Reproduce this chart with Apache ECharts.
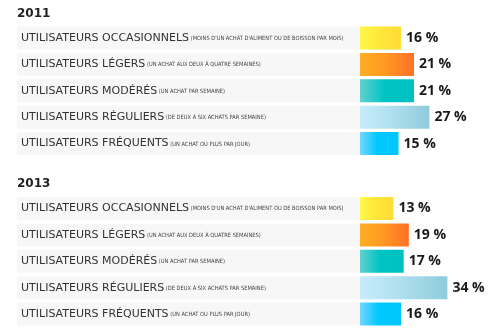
<!DOCTYPE html>
<html><head><meta charset="utf-8">
<script src="https://cdn.jsdelivr.net/npm/echarts@6/dist/echarts.min.js"></script>
<style>html,body{margin:0;padding:0;background:#fff}#c{width:500px;height:335px}</style>
</head><body><div id="c"></div>
<script>
const years = ['2011', '2013'];
const categories = ['UTILISATEURS OCCASIONNELS', 'UTILISATEURS LÉGERS', 'UTILISATEURS MODÉRÉS', 'UTILISATEURS RÉGULIERS', 'UTILISATEURS FRÉQUENTS'];
const notes = ["(MOINS D'UN ACHAT D'ALIMENT OU DE BOISSON PAR MOIS)", '(UN ACHAT AUX DEUX À QUATRE SEMAINES)', '(UN ACHAT PAR SEMAINE)', '(DE DEUX À SIX ACHATS PAR SEMAINE)', '(UN ACHAT OU PLUS PAR JOUR)'];
const values2011 = [16, 21, 21, 27, 15];
const values2013 = [13, 19, 17, 34, 16];

const grads = [
  ['#fff84a', '#ffe83a', '#ffdc36'],
  ['#ffae22', '#ff9a22', '#ff7026'],
  ['#62d0d0', '#00c4c4', '#00c0c0'],
  ['#c6ecfb', '#b0e0ef', '#8ecbdc'],
  ['#72d6ff', '#00c8ff', '#00c6fc']
];
function grad(i) {
  const g = grads[i];
  return { type: 'linear', x: 0, y: 0, x2: 1, y2: 0, colorStops: [
    { offset: 0, color: g[0] }, { offset: 0.45, color: g[1] }, { offset: 1, color: g[2] }] };
}
const panels = [{ top: 24.8, vals: values2011 }, { top: 195.3, vals: values2013 }];
const grid = [], xAxis = [], yAxis = [], series = [], title = [];
panels.forEach((p, k) => {
  title.push({ text: years[k], left: 12, top: p.top - 22, textStyle: { fontFamily: 'DejaVu Sans', fontWeight: 'bold', fontSize: 12, color: '#222' } });
  grid.push({ left: 17, top: p.top, width: 343, height: 132 });
  grid.push({ left: 360, top: p.top, width: 102.8, height: 132 });
  [0, 1].forEach(j => {
    const gi = k * 2 + j;
    xAxis.push({ type: 'value', gridIndex: gi, min: 0, max: j === 0 ? 1 : 40, show: false });
    yAxis.push({ type: 'category', gridIndex: gi, data: categories, inverse: true, show: false });
  });
  series.push({
    type: 'bar', xAxisIndex: k * 2, yAxisIndex: k * 2, barWidth: 23, silent: true,
    data: categories.map(() => 1), itemStyle: { color: '#f7f7f7' },
    label: { show: true, position: 'insideLeft', distance: 4,
      formatter: (d) => '{a|' + categories[d.dataIndex] + '}{b| ' + notes[d.dataIndex] + '}',
      rich: {
        a: { fontFamily: 'DejaVu Sans', fontSize: 11, color: '#333' },
        b: { fontFamily: 'DejaVu Sans Condensed', fontSize: 5.7, color: '#444', padding: [1, 0, 0, 0] }
      } }
  });
  series.push({
    type: 'bar', xAxisIndex: k * 2 + 1, yAxisIndex: k * 2 + 1, barWidth: 23,
    data: p.vals.map((v, i) => ({ value: v, itemStyle: { color: grad(i) } })),
    label: { show: true, position: 'right', distance: 5, formatter: '{c} %',
      fontFamily: 'Open Sans', fontWeight: 'bold', fontSize: 14, color: '#1a1a1a' }
  });
});
const chart = echarts.init(document.getElementById('c'), null, { renderer: 'canvas' });
chart.setOption({ animation: false, backgroundColor: '#fff', title, grid, xAxis, yAxis, series });
</script></body></html>
